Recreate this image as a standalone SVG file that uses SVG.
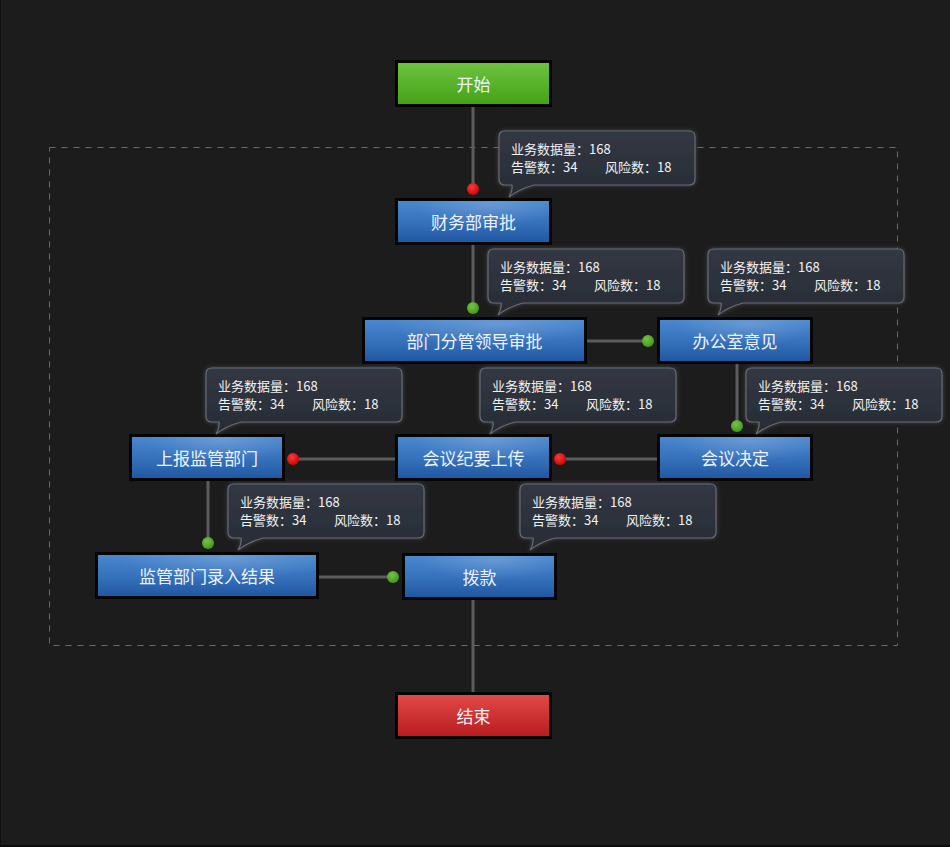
<svg xmlns="http://www.w3.org/2000/svg" width="950" height="847" viewBox="0 0 950 847">
<defs>
<linearGradient id="gBlue" x1="0" y1="0" x2="0" y2="1">
<stop offset="0" stop-color="#4a88d0"/>
<stop offset="0.55" stop-color="#3570bb"/>
<stop offset="1" stop-color="#1f559f"/>
</linearGradient>
<linearGradient id="gGreen" x1="0" y1="0" x2="0" y2="1">
<stop offset="0" stop-color="#6fc43f"/>
<stop offset="1" stop-color="#44a017"/>
</linearGradient>
<linearGradient id="gRed" x1="0" y1="0" x2="0" y2="1">
<stop offset="0" stop-color="#e34a4a"/>
<stop offset="1" stop-color="#b81b1d"/>
</linearGradient>
<radialGradient id="gloss" cx="0.6" cy="0.1" r="0.5">
<stop offset="0" stop-color="#ffffff" stop-opacity="0.18"/>
<stop offset="1" stop-color="#ffffff" stop-opacity="0"/>
</radialGradient>
<linearGradient id="gTip" x1="0" y1="0" x2="0" y2="1">
<stop offset="0" stop-color="#333844"/>
<stop offset="1" stop-color="#272b34"/>
</linearGradient>
<radialGradient id="dRed" cx="0.4" cy="0.35" r="0.6">
<stop offset="0" stop-color="#ff3a3a"/>
<stop offset="1" stop-color="#d00808"/>
</radialGradient>
<radialGradient id="dGreen" cx="0.4" cy="0.35" r="0.6">
<stop offset="0" stop-color="#74c442"/>
<stop offset="1" stop-color="#4a9a22"/>
</radialGradient>
<filter id="glow" x="-10%" y="-20%" width="120%" height="140%">
<feGaussianBlur in="SourceAlpha" stdDeviation="2" result="b"/>
<feFlood flood-color="#8a9099" flood-opacity="0.4"/>
<feComposite in2="b" operator="in" result="g"/>
<feMerge><feMergeNode in="g"/><feMergeNode in="SourceGraphic"/></feMerge>
</filter>
<path id="tip" d="M6,0 H190 Q196,0 196,6 V48 Q196,54 190,54 H35 Q20,58 10,66 Q14,60 13,54 H6 Q0,54 0,48 V6 Q0,0 6,0 Z"/>
</defs>
<style>
.node rect.b{stroke:#050505;stroke-width:3}
.node text{font-family:"Noto Sans CJK SC","Noto Sans",sans-serif;font-size:17px;fill:#eef3fa;text-anchor:middle;dominant-baseline:central}
.conn line{stroke:#5c5c5c;stroke-width:3}
.tipbox use{fill:url(#gTip);stroke:#666a73;stroke-width:1.2}
.tipbox text{font-family:"Noto Sans CJK SC","Noto Sans",sans-serif;font-size:13px;fill:#f2f2f2}
</style>
<rect x="0" y="0" width="950" height="847" fill="#1c1c1c"/>
<line x1="0.5" y1="0" x2="0.5" y2="847" stroke="#101010"/>
<line x1="0" y1="846" x2="950" y2="846" stroke="#0c0c0c" stroke-width="2"/>
<rect x="49.5" y="147.5" width="848" height="498" fill="none" stroke="#6a6a6a" stroke-dasharray="6 6"/>

<g class="conn" id="connectors">
<line x1="473" y1="107" x2="473" y2="189"/>
<line x1="473" y1="245" x2="473" y2="308"/>
<line x1="587" y1="341" x2="648" y2="341"/>
<line x1="737" y1="364" x2="737" y2="426"/>
<line x1="657" y1="459" x2="560" y2="459"/>
<line x1="395" y1="459" x2="293" y2="459"/>
<line x1="208" y1="481" x2="208" y2="543"/>
<line x1="319" y1="577" x2="393" y2="577"/>
<line x1="473" y1="600" x2="473" y2="692"/>
<circle cx="473" cy="189" r="6" fill="url(#dRed)"/>
<circle cx="473" cy="308" r="6" fill="url(#dGreen)"/>
<circle cx="648" cy="341" r="6" fill="url(#dGreen)"/>
<circle cx="737" cy="426" r="6" fill="url(#dGreen)"/>
<circle cx="560" cy="459" r="6" fill="url(#dRed)"/>
<circle cx="293" cy="459" r="6" fill="url(#dRed)"/>
<circle cx="208" cy="543" r="6" fill="url(#dGreen)"/>
<circle cx="393" cy="577" r="6" fill="url(#dGreen)"/>
</g>

<g class="node" id="n-start"><rect class="b" x="396.5" y="61.5" width="154" height="44" fill="url(#gGreen)"/><text x="473.5" y="83.5">开始</text></g>
<g class="node" id="n-caiwu"><rect class="b" x="396.5" y="199.5" width="154" height="44" fill="url(#gBlue)"/><rect x="398" y="201" width="151" height="41" fill="url(#gloss)"/><text x="473.5" y="221.5">财务部审批</text></g>
<g class="node" id="n-bumen"><rect class="b" x="363.5" y="318.5" width="222" height="44" fill="url(#gBlue)"/><rect x="365" y="320" width="219" height="41" fill="url(#gloss)"/><text x="474.5" y="340.5">部门分管领导审批</text></g>
<g class="node" id="n-bangong"><rect class="b" x="658.5" y="318.5" width="153" height="44" fill="url(#gBlue)"/><rect x="660" y="320" width="150" height="41" fill="url(#gloss)"/><text x="735" y="340.5">办公室意见</text></g>
<g class="node" id="n-shangbao"><rect class="b" x="130.5" y="435.5" width="153" height="44" fill="url(#gBlue)"/><rect x="132" y="437" width="150" height="41" fill="url(#gloss)"/><text x="207" y="457.5">上报监管部门</text></g>
<g class="node" id="n-jiyao"><rect class="b" x="396.5" y="435.5" width="154" height="44" fill="url(#gBlue)"/><rect x="398" y="437" width="151" height="41" fill="url(#gloss)"/><text x="473.5" y="457.5">会议纪要上传</text></g>
<g class="node" id="n-jueding"><rect class="b" x="658.5" y="435.5" width="153" height="44" fill="url(#gBlue)"/><rect x="660" y="437" width="150" height="41" fill="url(#gloss)"/><text x="735" y="457.5">会议决定</text></g>
<g class="node" id="n-luru"><rect class="b" x="96.5" y="553.5" width="221" height="44" fill="url(#gBlue)"/><rect x="98" y="555" width="218" height="41" fill="url(#gloss)"/><text x="207" y="575.5">监管部门录入结果</text></g>
<g class="node" id="n-bokuan"><rect class="b" x="403.5" y="554.5" width="152" height="44" fill="url(#gBlue)"/><rect x="405" y="556" width="149" height="41" fill="url(#gloss)"/><text x="479.5" y="576.5">拨款</text></g>
<g class="node" id="n-end"><rect class="b" x="396.5" y="693.5" width="154" height="44" fill="url(#gRed)"/><text x="473.5" y="715.5">结束</text></g>

<g class="tipbox" id="t1" transform="translate(499,131)"><use href="#tip" filter="url(#glow)"/><text x="12" y="23">业务数据量：168</text><text x="12" y="41">告警数：34</text><text x="106" y="41">风险数：18</text></g>
<g class="tipbox" id="t2" transform="translate(488,249)"><use href="#tip" filter="url(#glow)"/><text x="12" y="23">业务数据量：168</text><text x="12" y="41">告警数：34</text><text x="106" y="41">风险数：18</text></g>
<g class="tipbox" id="t3" transform="translate(708,249)"><use href="#tip" filter="url(#glow)"/><text x="12" y="23">业务数据量：168</text><text x="12" y="41">告警数：34</text><text x="106" y="41">风险数：18</text></g>
<g class="tipbox" id="t4" transform="translate(206,368)"><use href="#tip" filter="url(#glow)"/><text x="12" y="23">业务数据量：168</text><text x="12" y="41">告警数：34</text><text x="106" y="41">风险数：18</text></g>
<g class="tipbox" id="t5" transform="translate(480,368)"><use href="#tip" filter="url(#glow)"/><text x="12" y="23">业务数据量：168</text><text x="12" y="41">告警数：34</text><text x="106" y="41">风险数：18</text></g>
<g class="tipbox" id="t6" transform="translate(746,368)"><use href="#tip" filter="url(#glow)"/><text x="12" y="23">业务数据量：168</text><text x="12" y="41">告警数：34</text><text x="106" y="41">风险数：18</text></g>
<g class="tipbox" id="t7" transform="translate(228,484)"><use href="#tip" filter="url(#glow)"/><text x="12" y="23">业务数据量：168</text><text x="12" y="41">告警数：34</text><text x="106" y="41">风险数：18</text></g>
<g class="tipbox" id="t8" transform="translate(520,484)"><use href="#tip" filter="url(#glow)"/><text x="12" y="23">业务数据量：168</text><text x="12" y="41">告警数：34</text><text x="106" y="41">风险数：18</text></g>
</svg>
